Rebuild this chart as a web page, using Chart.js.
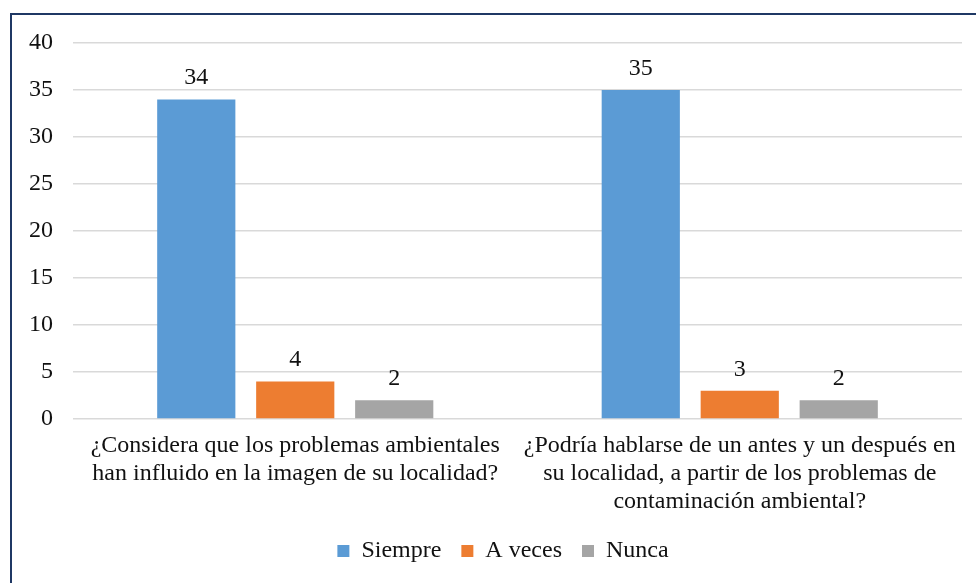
<!DOCTYPE html>
<html>
<head>
<meta charset="utf-8">
<script src="https://cdn.jsdelivr.net/npm/chart.js@4.4.1/dist/chart.umd.min.js"></script>
<style>
  html, body { margin: 0; padding: 0; background: #fff; overflow: hidden; }
  #frame { position: absolute; left: 10px; top: 13px; width: 1000px; height: 620px; border: 2px solid #1f3864; box-sizing: border-box; }
  #wrap { position: absolute; left: 0; top: 0; width: 976px; height: 583px; }
</style>
</head>
<body>
<div id="frame"></div>
<div id="wrap"><canvas id="chart" width="976" height="583"></canvas></div>
<script>
// Chart data
const categories = [
    ['¿Considera que los problemas ambientales', 'han influido en la imagen de su localidad?'],
    ['¿Podría hablarse de un antes y un después en', 'su localidad, a partir de los problemas de', 'contaminación ambiental?']
];
const seriesNames = ['Siempre', 'A veces', 'Nunca'];
const siempre = [34, 35];
const aVeces = [4, 3];
const nunca = [2, 2];
const seriesColors = ['#5B9BD5', '#ED7D31', '#A5A5A5'];
const yTicks = [0, 5, 10, 15, 20, 25, 30, 35, 40];

const FONT = "'Liberation Serif', 'Times New Roman', serif";
const TEXT = '#111111';

// Draw the value above each bar
const valueLabels = {
    id: 'valueLabels',
    afterDatasetsDraw(chart) {
        const ctx = chart.ctx;
        ctx.save();
        ctx.font = '24px ' + FONT;
        ctx.fillStyle = TEXT;
        ctx.textAlign = 'center';
        ctx.textBaseline = 'alphabetic';
        chart.data.datasets.forEach((ds, i) => {
            chart.getDatasetMeta(i).data.forEach((bar, j) => {
                ctx.fillText(ds.data[j], bar.x, bar.y - 15);
            });
        });
        ctx.restore();
    }
};

// The original legend sits a bit right of the canvas centre
const legendShift = {
    id: 'legendShift',
    afterLayout(chart) {
        if (chart.legend) {
            chart.legend.left += 22;
            chart.legend.right += 22;
        }
    }
};

const seriesData = [siempre, aVeces, nunca];

new Chart(document.getElementById('chart'), {
    type: 'bar',
    data: {
        labels: categories,
        datasets: seriesNames.map((name, i) => ({
            label: name,
            data: seriesData[i],
            backgroundColor: seriesColors[i],
            categoryPercentage: 0.668,
            barPercentage: 0.79
        }))
    },
    options: {
        responsive: false,
        animation: false,
        layout: { padding: { top: 43, right: 14, bottom: 10, left: 0 } },
        plugins: {
            legend: {
                position: 'bottom',
                labels: {
                    font: { family: FONT, size: 24 },
                    color: TEXT,
                    boxWidth: 12,
                    boxHeight: 12,
                    padding: 20
                }
            },
            tooltip: { enabled: false }
        },
        scales: {
            x: {
                grid: { display: false },
                border: { display: false },
                ticks: {
                    font: { family: FONT, size: 24, lineHeight: 1.17 },
                    color: TEXT,
                    padding: 5,
                    maxRotation: 0
                },
                afterFit: (s) => { s.height = 100; }
            },
            y: {
                min: 0,
                max: 40,
                afterBuildTicks: (s) => { s.ticks = yTicks.map(v => ({ value: v })); },
                grid: { color: '#D9D9D9', lineWidth: 1.5, drawTicks: false },
                border: { display: false },
                ticks: {
                    font: { family: FONT, size: 24 },
                    color: TEXT,
                    padding: 20
                },
                afterFit: (s) => { s.width = 73; }
            }
        }
    },
    plugins: [valueLabels, legendShift]
});
</script>
</body>
</html>
